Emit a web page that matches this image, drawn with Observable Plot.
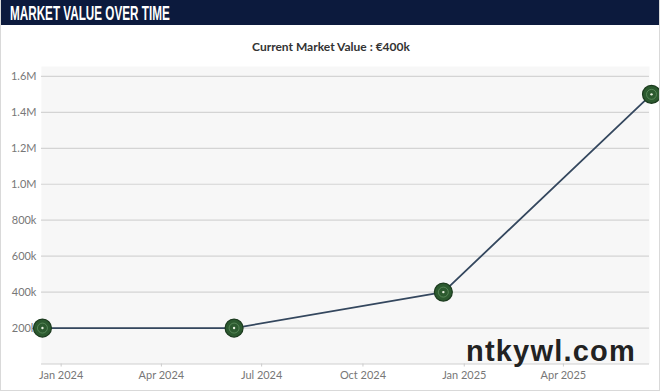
<!DOCTYPE html>
<html><head><meta charset="utf-8">
<script src="https://cdn.jsdelivr.net/npm/d3@7"></script>
<script src="https://cdn.jsdelivr.net/npm/@observablehq/plot@0.6"></script>
<style>
html,body{margin:0;padding:0;background:#fff;}
#wrap{position:relative;width:660px;height:391px;box-sizing:border-box;border:1px solid #d9d9d9;border-top:none;overflow:hidden;font-family:Lato,"Open Sans",sans-serif;}
#bar{position:absolute;left:0;top:0;width:660px;height:25px;background:#0c1a3d;}
#title{position:absolute;left:9px;top:2px;color:#fff;font-family:"Liberation Sans",Arial,sans-serif;font-weight:bold;font-size:19.5px;line-height:22px;white-space:nowrap;transform:scaleX(0.6);transform-origin:0 50%;}
#sub{position:absolute;left:0;width:660px;top:39px;text-align:center;font-weight:bold;font-size:12px;color:#333;}
#chart{position:absolute;left:-1px;top:56px;}
#wm{position:absolute;left:465px;top:335px;font-family:"Liberation Sans",Arial,sans-serif;font-weight:bold;font-size:29px;color:#222;letter-spacing:1.2px;}
</style></head>
<body>
<div id="wrap">
<div id="bar"><div id="title">MARKET VALUE OVER TIME</div></div>
<div id="sub">Current Market Value : €400k</div>
<div id="chart"></div>
<div id="wm">ntkywl.com</div>
</div>
<script>
const dates = ["2023-12-15","2024-06-06","2024-12-13","2025-06-20"];
const values = [200000, 200000, 400000, 1500000];
const yTicks = [200000, 400000, 600000, 800000, 1000000, 1200000, 1400000, 1600000];
const yTickLabels = ["200k","400k","600k","800k","1.0M","1.2M","1.4M","1.6M"];
const xTicks = ["2024-01-01","2024-04-01","2024-07-01","2024-10-01","2025-01-01","2025-04-01"];

const data = dates.map((d, i) => ({date: new Date(d), value: values[i]}));
const xTickDates = xTicks.map(d => new Date(d));
const fmtX = d3.utcFormat("%b %Y");

const chart = Plot.plot({
  width: 660,
  height: 334,
  marginLeft: 42,
  marginRight: 8,
  marginTop: 10,
  marginBottom: 26,
  style: {fontFamily: "Lato, 'Open Sans', sans-serif", fontSize: "11px", background: "transparent", overflow: "visible"},
  x: {type: "utc", domain: [data[0].date, data[data.length-1].date], label: null},
  y: {domain: [0, 1655000], label: null},
  marks: [
    Plot.frame({fill: "#f7f7f7", stroke: null, insetLeft: -1, insetRight: 2}),
    Plot.gridY(yTicks, {stroke: "#d4d4d4", strokeOpacity: 1, strokeWidth: 1.2, insetLeft: -1, insetRight: 2}),
    Plot.ruleY([0], {stroke: "#d0d0d0", strokeWidth: 1.2, insetLeft: -1, insetRight: 2}),
    Plot.axisY(yTicks, {label: null, tickSize: 0, tickPadding: 6, tickFormat: (d) => yTickLabels[yTicks.indexOf(d)], fill: "#777", fontSize: 11}),
    Plot.axisX(xTickDates, {label: null, tickSize: 3, tickPadding: 4, stroke: "#ccc", tickFormat: fmtX, fill: "#777", fontSize: 11}),
    Plot.line(data, {x: "date", y: "value", stroke: "#34475e", strokeWidth: 1.8}),
    Plot.dot(data, {x: "date", y: "value", r: 9, fill: "#2c5a2f", stroke: "#1c3b1f", strokeWidth: 1.2}),
    Plot.dot(data, {x: "date", y: "value", r: 5, fill: "none", stroke: "#5f8f5f", strokeWidth: 0.8}),
    Plot.dot(data, {x: "date", y: "value", r: 1.2, fill: "#e8f0e0", stroke: null})
  ]
});
document.getElementById("chart").appendChild(chart);
</script>
</body></html>
